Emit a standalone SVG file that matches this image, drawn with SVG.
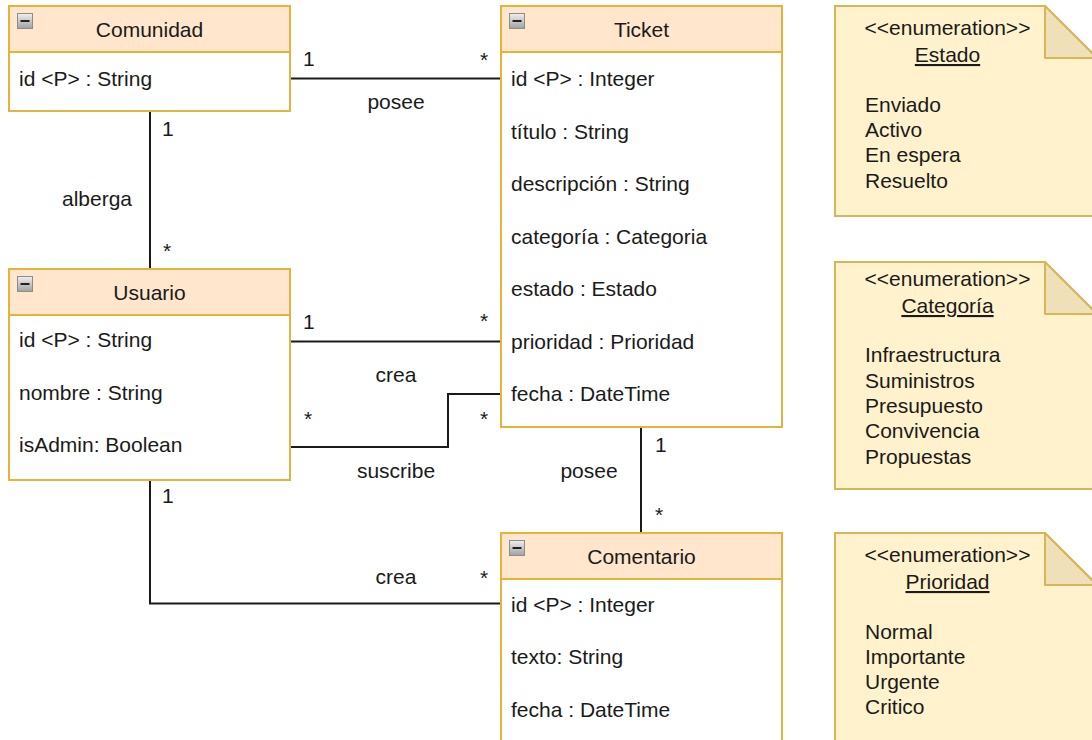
<svg xmlns="http://www.w3.org/2000/svg" width="1092" height="740" viewBox="0 0 1092 740">
<defs>
<linearGradient id="ig" x1="0" y1="0" x2="0" y2="1">
<stop offset="0" stop-color="#f0f0f0"/><stop offset="1" stop-color="#a0a0a0"/>
</linearGradient>
<style>
text{font-family:"Liberation Sans",Arial,sans-serif;fill:#1a1a1a;font-size:21px}
.hd{fill:#ffe6cc;stroke:#e6b33a;stroke-width:2}
.bd{fill:#ffffff;stroke:#e6b33a;stroke-width:2}
.t{text-anchor:middle}
.note{fill:#fff2cc;stroke:#d6b656;stroke-width:2}
.fold{fill:#efe0b9;stroke:#d6b656;stroke-width:2;stroke-linejoin:round}
.ico{fill:url(#ig);stroke:#8c8c8c;stroke-width:1}
.conn{fill:none;stroke:#1a1a1a;stroke-width:2}
.ul{text-decoration:underline}
</style>
</defs>
<rect width="1092" height="740" fill="#ffffff"/>

<g id="connectors">
<path class="conn" d="M290 78.5H501"/>
<path class="conn" d="M150 111V269"/>
<path class="conn" d="M290 341.5H501"/>
<path class="conn" d="M290 447H448V394H501"/>
<path class="conn" d="M641 427V533"/>
<path class="conn" d="M150 480V603.5H501"/>
<text x="303" y="66">1</text><text x="480" y="67">*</text><text class="t" x="396" y="109">posee</text>
<text x="162" y="136">1</text><text x="163" y="258">*</text><text class="t" x="97" y="206">alberga</text>
<text x="303" y="329">1</text><text x="480" y="328">*</text><text class="t" x="396" y="382">crea</text>
<text x="304" y="426">*</text><text x="480" y="426">*</text><text class="t" x="396" y="478">suscribe</text>
<text x="655" y="452">1</text><text x="655" y="522">*</text><text class="t" x="589" y="478">posee</text>
<text x="162" y="503">1</text><text x="480" y="585">*</text><text class="t" x="396" y="584">crea</text>
</g>

<g id="comunidad">
<rect class="bd" x="9" y="52" width="281" height="59"/>
<rect class="hd" x="9" y="6" width="281" height="46"/>
<rect class="ico" x="17.5" y="13.5" width="15" height="15"/><path d="M20.5 21H29.5" stroke="#222" stroke-width="2"/>
<text class="t" x="149.5" y="37">Comunidad</text>
<text x="19" y="86">id &lt;P&gt; : String</text>
</g>

<g id="ticket">
<rect class="bd" x="501" y="52" width="281" height="375"/>
<rect class="hd" x="501" y="6" width="281" height="46"/>
<rect class="ico" x="509.5" y="13.5" width="15" height="15"/><path d="M512.5 21H521.5" stroke="#222" stroke-width="2"/>
<text class="t" x="641.5" y="37">Ticket</text>
<text x="511" y="86">id &lt;P&gt; : Integer</text>
<text x="511" y="138.5">título : String</text>
<text x="511" y="191">descripción : String</text>
<text x="511" y="243.5">categoría : Categoria</text>
<text x="511" y="296">estado : Estado</text>
<text x="511" y="348.5">prioridad : Prioridad</text>
<text x="511" y="401">fecha : DateTime</text>
</g>

<g id="usuario">
<rect class="bd" x="9" y="315" width="281" height="165"/>
<rect class="hd" x="9" y="269" width="281" height="46"/>
<rect class="ico" x="17.5" y="276.5" width="15" height="15"/><path d="M20.5 284H29.5" stroke="#222" stroke-width="2"/>
<text class="t" x="149.5" y="300">Usuario</text>
<text x="19" y="347">id &lt;P&gt; : String</text>
<text x="19" y="399.5">nombre : String</text>
<text x="19" y="452">isAdmin: Boolean</text>
</g>

<g id="comentario">
<rect class="bd" x="501" y="579" width="281" height="180"/>
<rect class="hd" x="501" y="533" width="281" height="46"/>
<rect class="ico" x="509.5" y="540.5" width="15" height="15"/><path d="M512.5 548H521.5" stroke="#222" stroke-width="2"/>
<text class="t" x="641.5" y="564">Comentario</text>
<text x="511" y="612">id &lt;P&gt; : Integer</text>
<text x="511" y="664">texto: String</text>
<text x="511" y="716.5">fecha : DateTime</text>
</g>

<g id="enum-estado">
<path class="note" d="M835 6H1045L1097 58V216H835Z"/>
<path class="fold" d="M1045 6V58H1097Z"/>
<text class="t" x="947.5" y="35">&lt;&lt;enumeration&gt;&gt;</text>
<text class="t ul" x="947.5" y="62">Estado</text>
<text x="865" y="112">Enviado</text>
<text x="865" y="137">Activo</text>
<text x="865" y="162">En espera</text>
<text x="865" y="188">Resuelto</text>
</g>

<g id="enum-categoria">
<path class="note" d="M835 262H1045L1097 314V489H835Z"/>
<path class="fold" d="M1045 262V314H1097Z"/>
<text class="t" x="947.5" y="286">&lt;&lt;enumeration&gt;&gt;</text>
<text class="t ul" x="947.5" y="313">Categoría</text>
<text x="865" y="362">Infraestructura</text>
<text x="865" y="388">Suministros</text>
<text x="865" y="413">Presupuesto</text>
<text x="865" y="438">Convivencia</text>
<text x="865" y="464">Propuestas</text>
</g>

<g id="enum-prioridad">
<path class="note" d="M835 533H1045L1097 585V760H835Z"/>
<path class="fold" d="M1045 533V585H1097Z"/>
<text class="t" x="947.5" y="562">&lt;&lt;enumeration&gt;&gt;</text>
<text class="t ul" x="947.5" y="589">Prioridad</text>
<text x="865" y="639">Normal</text>
<text x="865" y="664">Importante</text>
<text x="865" y="689">Urgente</text>
<text x="865" y="714">Critico</text>
</g>
</svg>
